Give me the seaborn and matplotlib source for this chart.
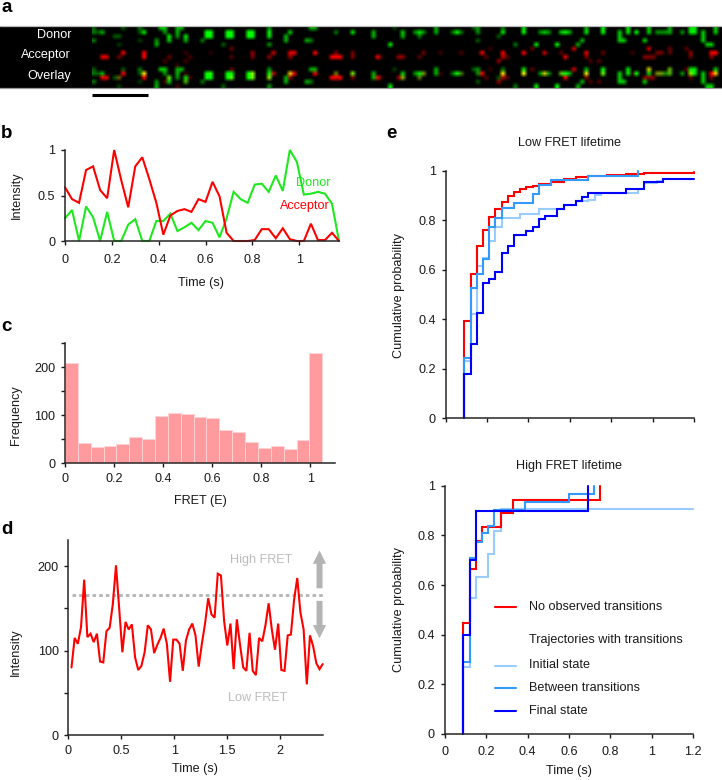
import numpy as np
import pandas as pd
import matplotlib
matplotlib.use("Agg")
import matplotlib.pyplot as plt
import seaborn as sns

sns.set_theme(style="ticks")
plt.rcParams['font.family'] = ['Liberation Sans', 'DejaVu Sans']
FS = 9.1
plt.rcParams['font.size'] = FS
plt.rcParams['axes.linewidth'] = 1.1
W, H = 722, 780

# ---- panel a: spots (column, row within channel, brightness)
donor_col = [0,0,2,1,0, 6,5,7,6, 11,12,11,11, 16,17,17,18,18,15,15,
             20,21,22,22,20,20, 27,28,27,28,26, 32,33,32,33,31,
             37,38,37,38, 42,42,42,42, 46,46,47, 52,53,51,52, 58,62,67,67,71,74,74,72,
             78,78,79,77,82,82,87,86,88,92,92,91,92,98,98,97,103,103,101,108,107,109,106,
             113,112,114,111,118,118,117,116,122,122,126,126,126,127,128,128,130,132,133,133,
             135,136,137,138,138,141,143,144,143,144,146,146,146,147,148,149,149]
donor_row = [0,1,1,1,3, 2,2,0,4, 0,1,1,3, 0,0,1,2,3,4,3,
             0,0,2,3,1,2, 1,1,2,2,3, 1,1,2,2,4,
             1,1,2,2, 1,2,0,4, 2,3,1, 0,0,3,3, 1,1,1,2,4,1,2,0,
             1,2,1,1,0,1,1,1,1,0,1,0,3,1,0,2,1,0,4,1,1,1,4,
             1,1,1,4,1,0,3,4,0,1,1,2,3,3,0,1,1,3,0,1,
             1,1,1,0,1,1,0,0,1,1,1,2,3,4,4,0,1]
donor_val = [.3,.4,.6,.3,.4, .3,.3,.3,.2, .4,.8,.3,.2, .7,.7,.5,.8,.7,.6,.5,
             .6,.6,.8,.6,.6,.5, 1,1,1,1,.4, 1,1,1,1,.3,
             .9,.9,.9,.9, .9,.8,.5,.5, .6,.6,.7, .6,.6,.6,.4, .4,.8,.6,.6,.8,.7,.6,.2,
             .8,.4,.5,.5,.6,.6,.9,.4,.4,.5,.5,.3,.3,.8,.4,.3,.9,.8,.4,.7,.5,.5,.8,
             1,.7,.6,.9,.8,.6,.6,.6,.9,.9,.7,.7,.7,.7,.8,.8,1,.7,.7,.7,
             .5,.5,.5,.6,.6,.5,.8,.8,.8,.8,.7,.7,.7,.7,.7,.7,.7]

acceptor_col = [2,3,7,6,12,12,18,17,22,23,22,20,28,33,33,38,38,
                43,42,47,48,47,53,57,58,59,58,62,62,68,69,73,74,
                79,78,83,88,93,94,95,98,98,99,97,103,105,108,113,112,115,
                118,118,119,122,121,129,133,132,133,134,135,136,138,138,142,143,143,148,149,148]
acceptor_row = [2,2,1,2,1,2,2,3,1,2,3,4,1,0,2,2,1,
                1,2,1,1,2,1,2,2,2,1,1,2,2,2,2,2,
                1,2,1,1,1,2,0,1,2,2,3,1,0,1,2,1,0,
                1,2,3,1,3,1,0,2,2,2,1,1,0,1,0,1,2,1,1,2]
acceptor_val = [.8,.8,1,.4,.9,.9,.35,.25,.2,.25,.25,.2,.15,.35,.3,.4,.5,
                .7,.5,.8,.8,.5,1,1,1,1,.4,.4,.4,1,.15,.5,.5,
                .4,.3,.2,.25,.9,.3,.2,1,.6,.3,.5,1,.3,.7,.9,.3,.7,
                .8,.4,.25,.35,.3,.2,.7,.45,.45,.45,.4,.4,.35,.3,.3,.5,.3,.9,.9,.4]
channel_labels = ["Donor", "Acceptor", "Overlay"]

# ---- panel b
time_b = [0,.03,.06,.09,.12,.15,.18,.21,.24,.27,.30,.33,.36,.39,.42,.45,.48,.51,.54,.57,
          .60,.63,.66,.69,.72,.75,.78,.81,.84,.87,.90,.93,.96,.99,1.02,1.05,1.08,1.11,1.14,1.17]
acceptor_b = [.59,.46,.42,.78,.82,.56,.47,1.0,.67,.37,.82,.92,.68,.42,.07,.28,.33,.35,.32,.46,
              .43,.65,.49,.09,0,0,0,.01,.13,.13,.03,.14,.02,0,0,.19,.01,.01,.09,0]
donor_b = [.25,.34,0,.38,.26,0,.32,0,0,.18,.24,0,0,.22,.22,.30,.11,.15,.20,.12,
           .22,.20,.04,.25,.54,.46,.42,.62,.63,.54,.72,.55,1,.87,.51,.52,.54,.52,.41,0]

# ---- panel c
fret_freq = [208,41,33,35,39,54,49,98,105,103,96,94,68,64,44,31,35,30,48,229]
fret_bin_width = 0.0524

# ---- panel d
intensity_d = [80,115,108,128,184,116,120,110,120,87,86,123,127,155,201,150,98,134,125,131,
               92,77,82,98,130,125,97,107,115,126,108,63,113,113,108,76,112,125,132,118,
               81,108,132,162,143,139,191,189,135,106,132,78,137,107,80,76,121,76,71,115,
               111,130,156,125,101,132,77,76,118,119,160,186,145,125,60,118,105,85,78,84]
frame_time_d = 0.03
threshold_d = 166

# ---- panel e: low FRET lifetime
low_red_t = [.09,.09,.12,.15,.18,.21,.24,.27,.30,.33,.36,.39,.42,.45,.51,.57,.63,.69,.78,.87,.96,1.02,1.2]
low_red_p = [0,.393,.583,.696,.760,.812,.845,.872,.898,.914,.927,.933,.938,.945,.956,.965,.973,.978,.982,.987,.991,.992,.996]
low_init_t = [.09,.09,.12,.15,.18,.21,.24,.27,.36,.45,.57,.63,.69,.72,.75,.87,.93,.96,1.02,1.05]
low_init_p = [0,.233,.421,.615,.646,.717,.771,.808,.825,.844,.861,.878,.882,.902,.908,.911,.925,.949,.960,.960]
low_mid_t = [.09,.09,.12,.15,.18,.21,.24,.27,.33,.42,.45,.51,.69,.93,.93]
low_mid_p = [0,.242,.528,.583,.642,.774,.810,.848,.868,.906,.942,.962,.980,.985,1.0]
low_dark_t = [.09,.09,.12,.15,.18,.21,.24,.27,.30,.33,.39,.42,.45,.48,.54,.57,.63,.66,.69,.87,.96,1.05,1.2]
low_dark_p = [0,.179,.300,.424,.545,.561,.591,.666,.696,.742,.758,.771,.803,.818,.847,.861,.879,.894,.908,.925,.956,.968,.968]

# ---- panel e: high FRET lifetime
high_red_t = [.09,.09,.12,.15,.18,.27,.33,.75,.75]
high_red_p = [0,.446,.664,.778,.832,.889,.942,.942,1.0]
high_init_t = [.09,.09,.12,.15,.21,.24,.27,1.2]
high_init_p = [0,.271,.546,.634,.725,.819,.907,.907]
high_mid_t = [.09,.09,.12,.15,.18,.21,.24,.39,.60,.72,.72]
high_mid_p = [0,.289,.707,.774,.808,.839,.902,.936,.966,.966,1.0]
high_dark_t = [.09,.09,.12,.15,.69,.69]
high_dark_p = [0,.399,.70,.899,.899,1.0]

legend_labels = ["No observed transitions", "Trajectories with transitions",
                 "Initial state", "Between transitions", "Final state"]

RED, GREEN = "#ff0000", "#1ee81e"
LIGHT, MID, DARK = "#99ccff", "#3399ff", "#0000ff"
GREY = "#b4b4b4"
TXT = "#1a1a1a"

fig = plt.figure(figsize=(W/100, H/100), dpi=100, facecolor="white")

def axes_px(x0, x1, ytop, ybot):
    return fig.add_axes([x0/W, 1-ybot/H, (x1-x0)/W, (ybot-ytop)/H])

def ftext(x, y, s, **kw):
    kw.setdefault("fontsize", FS); kw.setdefault("color", TXT)
    kw.setdefault("ha", "center"); kw.setdefault("va", "center")
    return fig.text(x/W, 1-y/H, s, **kw)

def style(ax, xlabel=None, xlab_px=None, ylabel=None, ylab_px=None, hide_xlabels=False, xpad=5):
    sns.despine(ax=ax)
    ax.patch.set_alpha(0)
    ax.tick_params(axis="both", length=3, width=1.0, labelsize=FS, colors=TXT,
                   labelbottom=not hide_xlabels)
    ax.tick_params(axis="x", pad=xpad)
    ax.tick_params(axis="y", pad=4)
    ax.set_xlabel(""); ax.set_ylabel("")
    if xlabel: ftext(xlab_px[0], xlab_px[1], xlabel)
    if ylabel: ftext(ylab_px[0], ylab_px[1], ylabel, rotation=90)

def trace(ax, t, v, color, lw=1.5, steps=False):
    df = pd.DataFrame({"t": t, "v": v})
    sns.lineplot(data=df, x="t", y="v", ax=ax, color=color, lw=lw, estimator=None, sort=False,
                 errorbar=None, legend=False, clip_on=False, solid_joinstyle="miter",
                 drawstyle="steps-post" if steps else "default")

# ---------- a
ax = axes_px(0, W, 26, 88)
ax.set_axis_off()
n_rows, n_cols = 15, 151
donor = np.zeros((5, n_cols)); acceptor = np.zeros((5, n_cols))
for c, r, v in zip(donor_col, donor_row, donor_val):
    donor[r, c] = v
for c, r, v in zip(acceptor_col, acceptor_row, acceptor_val):
    acceptor[r, c] = v
img = np.zeros((n_rows, n_cols, 3))
img[0:5, :, 1] = donor
img[5:10, :, 0] = acceptor
img[10:15, :, 0] = acceptor
img[10:15, :, 1] = donor
ax.set_xlim(0, W); ax.set_ylim(88, 26)
ax.add_patch(plt.Rectangle((0, 26), W, 62, color="black", lw=0))
ax.imshow(np.clip(img * 1.15, 0, 1), extent=(92, W, 88, 26), interpolation="bilinear",
          aspect="auto", zorder=2)
ax.set_xlim(0, W); ax.set_ylim(88, 26)
for y, s in zip([35, 55, 76], channel_labels):
    ftext(71, y, s, color="white", ha="right")
fig.add_artist(plt.Line2D([0, 1], [1-25.5/H]*2, color="#bbbbbb", lw=0.9))
fig.add_artist(plt.Line2D([0, 1], [1-88.3/H]*2, color="#999999", lw=0.9))
fig.add_artist(plt.Line2D([92/W, 148/W], [1-94.8/H]*2, color="black", lw=2.2, solid_capstyle="butt"))

# ---------- b
ax = axes_px(65, 339, 150, 241)
trace(ax, time_b, donor_b, GREEN)
trace(ax, time_b, acceptor_b, RED)
ax.set_xlim(0, 1.17); ax.set_ylim(0, 1)
ax.set_xticks([0, .2, .4, .6, .8, 1]); ax.set_xticklabels(["0", "0.2", "0.4", "0.6", "0.8", "1"])
ax.set_yticks([0, .5, 1]); ax.set_yticklabels(["0", "0.5", "1"])
style(ax, "Time (s)", (201, 283), "Intensity", (17, 195), xpad=6.5)
ftext(313, 183, "Donor", color=GREEN)
ftext(305, 206, "Acceptor", color=RED)

# ---------- c
ax = axes_px(65, 335, 343, 463)
n_bins = len(fret_freq)
hist_df = pd.DataFrame({"fret": (np.arange(n_bins) + .5) * fret_bin_width, "freq": fret_freq})
sns.histplot(data=hist_df, x="fret", weights="freq", bins=n_bins,
             binrange=(0, n_bins * fret_bin_width), ax=ax, color="#ff9a9e", alpha=1,
             edgecolor="#ffd5d7", linewidth=0.6)
ax.set_xlim(0, 1.1); ax.set_ylim(0, 250)
ax.set_xticks([0, .2, .4, .6, .8, 1]); ax.set_xticklabels(["0", "0.2", "0.4", "0.6", "0.8", "1"])
ax.set_yticks([0, 50, 100, 150, 200, 250]); ax.set_yticklabels(["0", "", "100", "", "200", ""])
style(ax, "FRET (E)", (200, 501), "Frequency", (16, 415), xpad=4.5)

# ---------- d
ax = axes_px(68.3, 322.7, 540, 735)
time_d = (np.arange(len(intensity_d)) + 1) * frame_time_d
trace(ax, time_d, intensity_d, RED)
ax.axhline(threshold_d, xmin=0.014, color=GREY, lw=2, dashes=(1.3, 1.1), zorder=1)
ax.set_xlim(0, 2.4); ax.set_ylim(0, 231)
ax.set_xticks([0, .5, 1, 1.5, 2]); ax.set_xticklabels(["0", "0.5", "1", "1.5", "2"])
ax.set_yticks([0, 50, 100, 150, 200]); ax.set_yticklabels(["0", "", "100", "", "200"])
style(ax, "Time (s)", (195, 769), "Intensity", (16, 652), xpad=4.5)
arrow = dict(width=4.3, headwidth=9.5, headlength=9.5, color=GREY, shrink=0, lw=0)
ax.annotate("", xy=(2.37, 218.5), xytext=(2.37, 173.8), arrowprops=arrow, annotation_clip=False)
ax.annotate("", xy=(2.37, 114.6), xytext=(2.37, 158.9), arrowprops=arrow, annotation_clip=False)
ftext(261, 560, "High FRET", color="#bdbdbd")
ftext(258, 698, "Low FRET", color="#bdbdbd")

# ---------- e top
ax = axes_px(445.7, 694, 170.7, 418.3)
trace(ax, low_init_t, low_init_p, LIGHT, steps=True)
trace(ax, low_red_t, low_red_p, RED, steps=True)
trace(ax, low_mid_t, low_mid_p, MID, steps=True)
trace(ax, low_dark_t, low_dark_p, DARK, steps=True)
ax.set_xlim(0, 1.2); ax.set_ylim(0, 1)
ax.set_xticks(np.arange(0, 1.21, .2))
ax.set_yticks([0, .2, .4, .6, .8, 1]); ax.set_yticklabels(["0", "0.2", "0.4", "0.6", "0.8", "1"])
style(ax, ylabel="Cumulative probability", ylab_px=(399, 295), hide_xlabels=True)
ftext(569, 143, "Low FRET lifetime")

# ---------- e bottom
ax = axes_px(444.7, 693.3, 485.7, 734)
trace(ax, high_init_t, high_init_p, LIGHT, steps=True)
trace(ax, high_red_t, high_red_p, RED, steps=True)
trace(ax, high_mid_t, high_mid_p, MID, steps=True)
trace(ax, high_dark_t, high_dark_p, DARK, steps=True)
ax.set_xlim(0, 1.2); ax.set_ylim(0, 1)
ax.set_xticks(np.arange(0, 1.21, .2))
ax.set_xticklabels(["0", "0.2", "0.4", "0.6", "0.8", "1", "1.2"])
ax.set_yticks([0, .2, .4, .6, .8, 1]); ax.set_yticklabels(["0", "0.2", "0.4", "0.6", "0.8", "1"])
style(ax, "Time (s)", (569, 771), "Cumulative probability", (399, 610), xpad=5.5)
ftext(569, 466, "High FRET lifetime")
legend_y = [607.3, 640, 665.5, 688, 710.5]
legend_c = [RED, None, LIGHT, MID, DARK]
for y, s, c in zip(legend_y, legend_labels, legend_c):
    ftext(529, y, s, ha="left")
    if c:
        fig.add_artist(plt.Line2D([495/W, 516/W], [1-y/H]*2, color=c, lw=1.5))

# ---------- panel letters
for s, x, y in [("a", 1, 8), ("b", 1, 134), ("c", 1, 326), ("d", 1, 530), ("e", 386, 134)]:
    ftext(x, y, s, fontsize=13.5, fontweight="bold", color="black", ha="left")

fig.savefig("out.png", dpi=100)
